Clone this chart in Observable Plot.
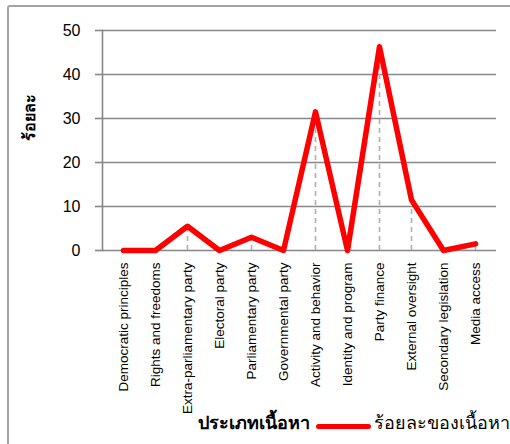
<!DOCTYPE html>
<html><head><meta charset="utf-8">
<script src="https://cdn.jsdelivr.net/npm/d3@7"></script>
<script src="https://cdn.jsdelivr.net/npm/@observablehq/plot@0.6"></script>
<style>
body{margin:0;background:#fff;}
#wrap{position:relative;width:510px;height:444px;overflow:hidden;font-family:"Liberation Sans",Arial,sans-serif;}
#frame{position:absolute;left:7px;top:5px;width:530px;height:470px;border:2px solid #a3a3a3;border-radius:3px;}
#chart{position:absolute;left:0;top:0;}
.xt{position:absolute;left:198px;top:408px;font-size:18px;font-weight:bold;color:#000;white-space:nowrap;}
.sw{position:absolute;left:316px;top:424px;width:55px;height:5px;background:#ff0000;border-radius:3px;}
.lt{position:absolute;left:374px;top:408px;font-size:18px;color:#000;white-space:nowrap;}
</style></head>
<body>
<div id="wrap"><div id="frame"></div><div id="chart"></div>
<div class="xt" id="xtitle"></div><div class="sw"></div><div class="lt" id="ltext"></div></div>
<script>
const categories = ["Democratic principles","Rights and freedoms","Extra-parliamentary party","Electoral party","Parliamentary party","Governmental party","Activity and behavior","Identity and program","Party finance","External oversight","Secondary legislation","Media access"];
const values = [0,0,5.5,0,3,0,31.5,0,46.3,11.5,0,1.5];
const yTicks = [0,10,20,30,40,50];
const yTitle = "ร้อยละ";
const xTitle = "ประเภทเนื้อหา";
const seriesName = "ร้อยละของเนื้อหา";

const data = categories.map((c,i)=>({cat:c, v:values[i]}));
document.getElementById("xtitle").textContent = xTitle;
document.getElementById("ltext").textContent = seriesName;

const chart = Plot.plot({
  width:510, height:444,
  marginLeft:102, marginRight:14, marginTop:30, marginBottom:194,
  style:{fontFamily:"'Liberation Sans', Arial, sans-serif", color:"#000", background:"transparent"},
  x:{type:"point", domain:categories, padding:0.5},
  y:{domain:[0,50]},
  marks:[
    Plot.ruleY(yTicks, {stroke:"#878787", strokeWidth:1.6}),
    Plot.frame({anchor:"left", stroke:"#878787", strokeWidth:1.6}),
    Plot.ruleX(data.filter(d=>d.v>0), {x:"cat", y1:0, y2:"v", stroke:"#b0b0b0", strokeWidth:1.6, strokeDasharray:"5,4"}),
    Plot.line(data, {x:"cat", y:"v", stroke:"#ff0000", strokeWidth:5.5, strokeLinejoin:"round", strokeLinecap:"round"}),
    Plot.axisY({ticks:yTicks, tickSize:7, tickPadding:15, fontSize:16, label:null, stroke:"#878787", strokeWidth:1.6}),
    Plot.axisX({tickRotate:-90, tickSize:0, tickPadding:12, fontSize:13.5, label:null}),
    Plot.text([yTitle], {frameAnchor:"left", dx:-73, rotate:-90, fontWeight:"bold", fontSize:16, fill:"#000"})
  ]
});
document.getElementById("chart").appendChild(chart);
</script>
</body></html>
